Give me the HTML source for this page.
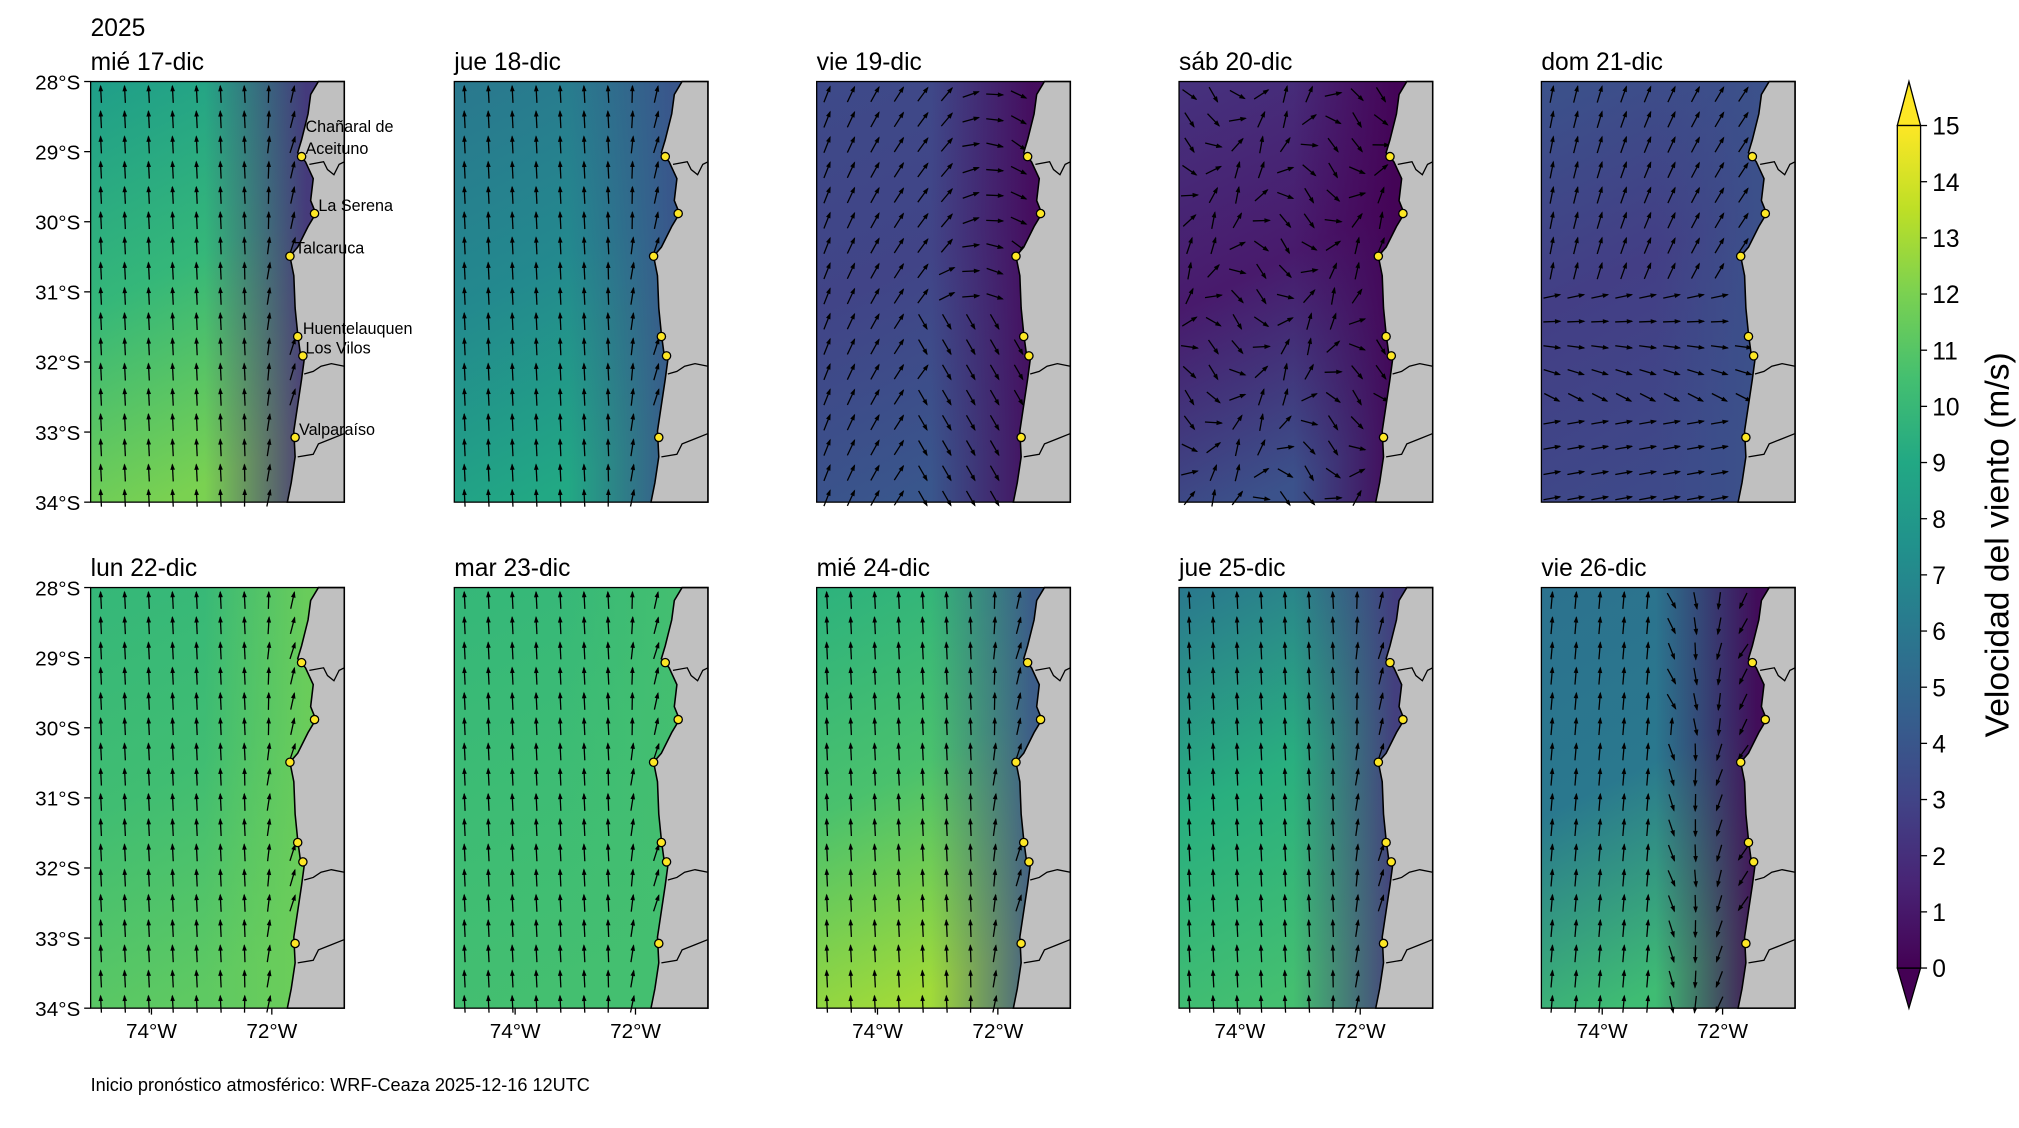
<!DOCTYPE html>
<html><head><meta charset="utf-8"><style>
html,body{margin:0;padding:0;background:#fff;}
svg{display:block;font-family:"Liberation Sans","DejaVu Sans",sans-serif;}
</style></head><body>
<svg id="s" width="2019" height="1128" viewBox="0 0 1560 871.6" xmlns="http://www.w3.org/2000/svg">
<defs>
<linearGradient id="cb" x1="0" y1="1" x2="0" y2="0">
<stop offset="0" stop-color="#440154"/><stop offset="0.1" stop-color="#482475"/><stop offset="0.2" stop-color="#414487"/><stop offset="0.3" stop-color="#355f8d"/><stop offset="0.4" stop-color="#2a788e"/><stop offset="0.5" stop-color="#21918c"/><stop offset="0.6" stop-color="#22a884"/><stop offset="0.7" stop-color="#44bf70"/><stop offset="0.8" stop-color="#7ad151"/><stop offset="0.9" stop-color="#bddf26"/><stop offset="1" stop-color="#fde725"/>
</linearGradient>
</defs>
<g id="g"></g>
</svg>
<script>
const NS="http://www.w3.org/2000/svg";const G=document.getElementById('g');const D=document.querySelector('defs');
function el(t,a,p){const e=document.createElementNS(NS,t);for(const k in a)e.setAttribute(k,a[k]);(p||G).appendChild(e);return e;}
function tx(x,y,s,sz,anc,extra){const e=el('text',Object.assign({x:x,y:y,'font-size':sz,'text-anchor':anc||'start',fill:'#000'},extra||{}));e.textContent=s;return e;}
const W=196,H=325;
const cols=[70,351,631,911,1191],rows=[63,454];
const titles=["mié 17-dic","jue 18-dic","vie 19-dic","sáb 20-dic","dom 21-dic","lun 22-dic","mar 23-dic","mié 24-dic","jue 25-dic","vie 26-dic"];
const C=[
["#1f9e89","#7ad151","#472d7b","#35b779"],
["#2a788e","#22a884","#3b528b","#23898e"],
["#3e4a89","#39568c","#46075a","#414487"],
["#46327e","#3b528b","#440154","#481a6c"],
["#3b528b","#3e4989","#3b528b","#433e85"],
["#35b779","#5ec962","#6ece58","#40bd72"],
["#35b779","#44bf70","#44bf70","#3dbc74"],
["#2db27d","#a0da39","#3b528b","#4ac16d"],
["#2a788e","#44bf70","#46337e","#29af7f"],
["#2c728e","#3fbc73","#440154","#2a788e"]];
const coast=[[176,0],[170,10],[168,25],[163,45],[160,55],[166,62],[172,75],[170,92],[174,102],[168,112],[160,128],[154,135],[157,150],[158,175],[160,195],[162,210],[165,215],[163,230],[160,250],[157,270],[158,290],[155,310],[152,325]];
function coastX(y){for(let i=1;i<coast.length;i++){if(y<=coast[i][1]){const a=coast[i-1],b=coast[i];return a[0]+(b[0]-a[0])*(y-a[1])/(b[1]-a[1]);}}return 152;}
const st=[[163,58],[173,102],[154,135],[160,197],[164,212],[158,275]];
function ang(p,x,y){const cx=coastX(y);const d=cx-x;
 let a=0;
 if(p==0||p==1||p==5||p==6||p==7||p==8){a=-3+ (d<40? (40-d)*0.6:0);}
 else if(p==2){a= d<60? 60+(60-d)*1.2 : 20+ (x/200)*40; if(y>180&&d<80)a=150;}
 else if(p==3){a= 80+Math.sin(x*0.05+y*0.03)*70;}
 else if(p==4){a= y>150&&y<260?95+(y-200)*0.5:(y<150?10+ (x/200)*30:80);}
 else if(p==9){a= d<70?150+(70-d):5;}
 return a;}
titles.forEach((t,p)=>{const ox=cols[p%5],oy=rows[Math.floor(p/5)];const c=C[p];
 const gid='v'+p,hid='h'+p;
 const lg=el('linearGradient',{id:gid,x1:0,y1:0,x2:0.3,y2:1},D);
 el('stop',{offset:0,'stop-color':c[0]},lg);el('stop',{offset:0.5,'stop-color':c[3]},lg);el('stop',{offset:1,'stop-color':c[1]},lg);
 const hg=el('linearGradient',{id:hid,x1:0,y1:0,x2:1,y2:0},D);
 el('stop',{offset:0.45,'stop-color':c[2],'stop-opacity':0},hg);el('stop',{offset:0.85,'stop-color':c[2],'stop-opacity':0.9},hg);
 const g=el('g',{transform:`translate(${ox},${oy})`});
 el('rect',{x:0,y:0,width:W,height:H,fill:`url(#${gid})`},g);
 el('rect',{x:0,y:0,width:W,height:H,fill:`url(#${hid})`},g);
 for(let y=10;y<H;y+=19.5){for(let x=8;x<W;x+=18.5){if(x>coastX(y)-4)continue;
  const a=ang(p,x,y)*Math.PI/180,L=13;const dx=Math.sin(a)*L/2,dy=-Math.cos(a)*L/2;
  const x1=x-dx,y1=y-dy,x2=x+dx,y2=y+dy;
  el('line',{x1:x1,y1:y1,x2:x2,y2:y2,stroke:'#000','stroke-width':1},g);
  const ux=Math.sin(a),uy=-Math.cos(a),px=-uy,py=ux;
  el('polygon',{points:`${x2+ux*1},${y2+uy*1} ${x2-ux*4+px*1.8},${y2-uy*4+py*1.8} ${x2-ux*4-px*1.8},${y2-uy*4-py*1.8}`,fill:'#000'},g);}}
 let d='M'+coast.map(q=>q.join(',')).join(' L')+' L196,325 L196,0 Z';
 el('path',{d:d,fill:'#c0c0c0',stroke:'#000','stroke-width':1.2},g);
 el('polyline',{points:'169,64 180,62 183,68 188,72 192,64 196,62',fill:'none',stroke:'#000','stroke-width':1},g);
 el('polyline',{points:'165,226 172,224 178,220 186,218 196,220',fill:'none',stroke:'#000','stroke-width':1},g);
 el('polyline',{points:'160,290 172,288 176,280 186,276 196,272',fill:'none',stroke:'#000','stroke-width':1},g);
 st.forEach(s=>el('circle',{cx:s[0],cy:s[1],r:3.2,fill:'#fde725',stroke:'#000','stroke-width':1},g));
 el('rect',{x:0,y:0,width:W,height:H,fill:'none',stroke:'#000','stroke-width':1},g);
 tx(ox,oy-9,t,19);
 if(p%5==0){['28','29','30','31','32','33','34'].forEach((l,i)=>{const yy=oy+i*54.17;el('line',{x1:ox-5,y1:yy,x2:ox,y2:yy,stroke:'#000'});tx(ox-8,yy+6,l+'°S',16,'end');});}
 if(p>=5){[[117,'74°W'],[210,'72°W']].forEach(q=>{const xx=ox+q[0]-70;el('line',{x1:xx,y1:oy+H,x2:xx,y2:oy+H+5,stroke:'#000'});tx(xx,oy+H+23,q[1],16,'middle');});}
});
tx(70,28,'2025',19);
[['Chañaral de',236,102],['Aceituno',236,119],['La Serena',246,163],['Talcaruca',228,196],['Huentelauquen',234,258],['Los Vilos',236,273],['Valparaíso',231,336]].forEach(q=>tx(q[1],q[2],q[0],12.5));
tx(70,843,'Inicio pronóstico atmosférico: WRF-Ceaza 2025-12-16 12UTC',14);
el('polygon',{points:'1466,97 1484,97 1475,63',fill:'#fde725',stroke:'#000','stroke-width':1});
el('polygon',{points:'1466,748 1484,748 1475,779',fill:'#440154',stroke:'#000','stroke-width':1});
el('rect',{x:1466,y:97,width:18,height:651,fill:'url(#cb)',stroke:'#000','stroke-width':1});
for(let i=0;i<=15;i++){const y=748-i*43.4;el('line',{x1:1484,y1:y,x2:1489,y2:y,stroke:'#000'});tx(1493,y+7,String(i),19);}
tx(0,0,'Velocidad del viento (m/s)',26,'middle',{transform:'translate(1552,421) rotate(-90)'});
</script>
</body></html>
